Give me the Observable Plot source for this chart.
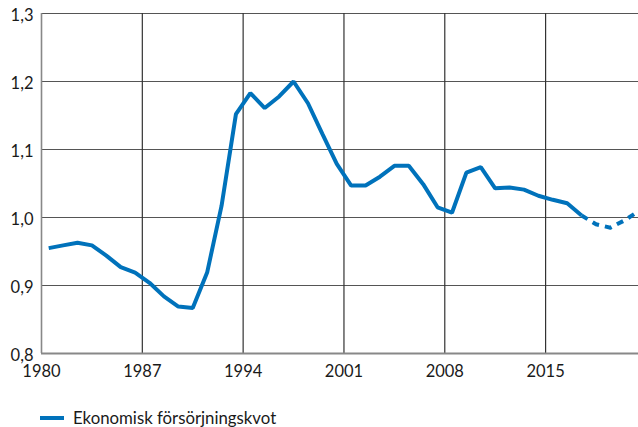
<!DOCTYPE html>
<html><head><meta charset="utf-8">
<script src="https://cdn.jsdelivr.net/npm/d3@7"></script>
<script src="https://cdn.jsdelivr.net/npm/@observablehq/plot@0.6"></script>
<style>
body{margin:0;background:#fff;font-family:Lato,"Open Sans",sans-serif;}
#wrap{position:relative;width:638px;height:427px;overflow:hidden;}
#legend{position:absolute;left:40px;top:407px;display:flex;align-items:center;font-size:16.8px;color:#1a1a1a;}
#legend .sw{width:24px;height:4px;background:#0072bb;margin-right:9px;}
</style>
</head><body><div id="wrap"><div id="chart"></div><div id="legend"><span class="sw"></span><span id="legtext"></span></div></div>
<script>
const years = [1980,1981,1982,1983,1984,1985,1986,1987,1988,1989,1990,1991,1992,1993,1994,1995,1996,1997,1998,1999,2000,2001,2002,2003,2004,2005,2006,2007,2008,2009,2010,2011,2012,2013,2014,2015,2016,2017,2018,2019,2020,2021];
const values = [0.955,0.959,0.963,0.959,0.944,0.927,0.919,0.904,0.884,0.869,0.867,0.919,1.017,1.152,1.183,1.161,1.178,1.200,1.168,1.123,1.079,1.047,1.047,1.060,1.076,1.076,1.049,1.015,1.007,1.066,1.074,1.043,1.044,1.041,1.032,1.026,1.021,1.003,0.990,0.985,0.996,1.010];
const forecastFrom = 2017;
const xTicks = [1980,1987,1994,2001,2008,2015];
const yTicks = [0.8,0.9,1.0,1.1,1.2,1.3];
const seriesLabel = "Ekonomisk försörjningskvot";
const color = "#0072bb";

document.getElementById("legtext").textContent = seriesLabel;

// each yearly value sits in the middle of its year interval
const data = years.map((year, i) => ({year, mid: year + 0.5, value: values[i]}));

const chart = Plot.plot({
  width: 638,
  height: 395,
  marginLeft: 41,
  marginRight: 0,
  marginTop: 13,
  marginBottom: 42,
  style: {fontFamily: "Lato, 'Open Sans', sans-serif", fontSize: "16.5px", color: "#1a1a1a", background: "#fff"},
  x: {domain: [1980, 2021.45]},
  y: {domain: [0.8, 1.3]},
  marks: [
    Plot.ruleY(yTicks.filter(v => v > 0.8), {stroke: "#555", strokeWidth: 1.2}),
    Plot.ruleX(xTicks.filter(v => v > 1980), {stroke: "#333", strokeWidth: 1.2}),
    Plot.ruleX([xTicks[0]], {stroke: "#888", strokeWidth: 1.6}),
    Plot.ruleY([yTicks[0]], {stroke: "#888", strokeWidth: 2}),
    Plot.line(data.filter(d => d.year <= forecastFrom), {x: "mid", y: "value", stroke: color, strokeWidth: 4, strokeLinejoin: "miter", strokeLinecap: "butt"}),
    Plot.line(data.filter(d => d.year >= forecastFrom), {x: "mid", y: "value", stroke: color, strokeWidth: 4, strokeDasharray: "7,6", strokeLinecap: "butt"}),
    Plot.axisY({ticks: yTicks, tickFormat: d => d.toFixed(1).replace(".", ","), tickSize: 0, tickPadding: 8, dy: 2, label: null}),
    Plot.axisX({ticks: xTicks, tickFormat: d => String(d), tickSize: 0, tickPadding: 12, label: null})
  ]
});
document.getElementById("chart").appendChild(chart);
</script>
</body></html>
